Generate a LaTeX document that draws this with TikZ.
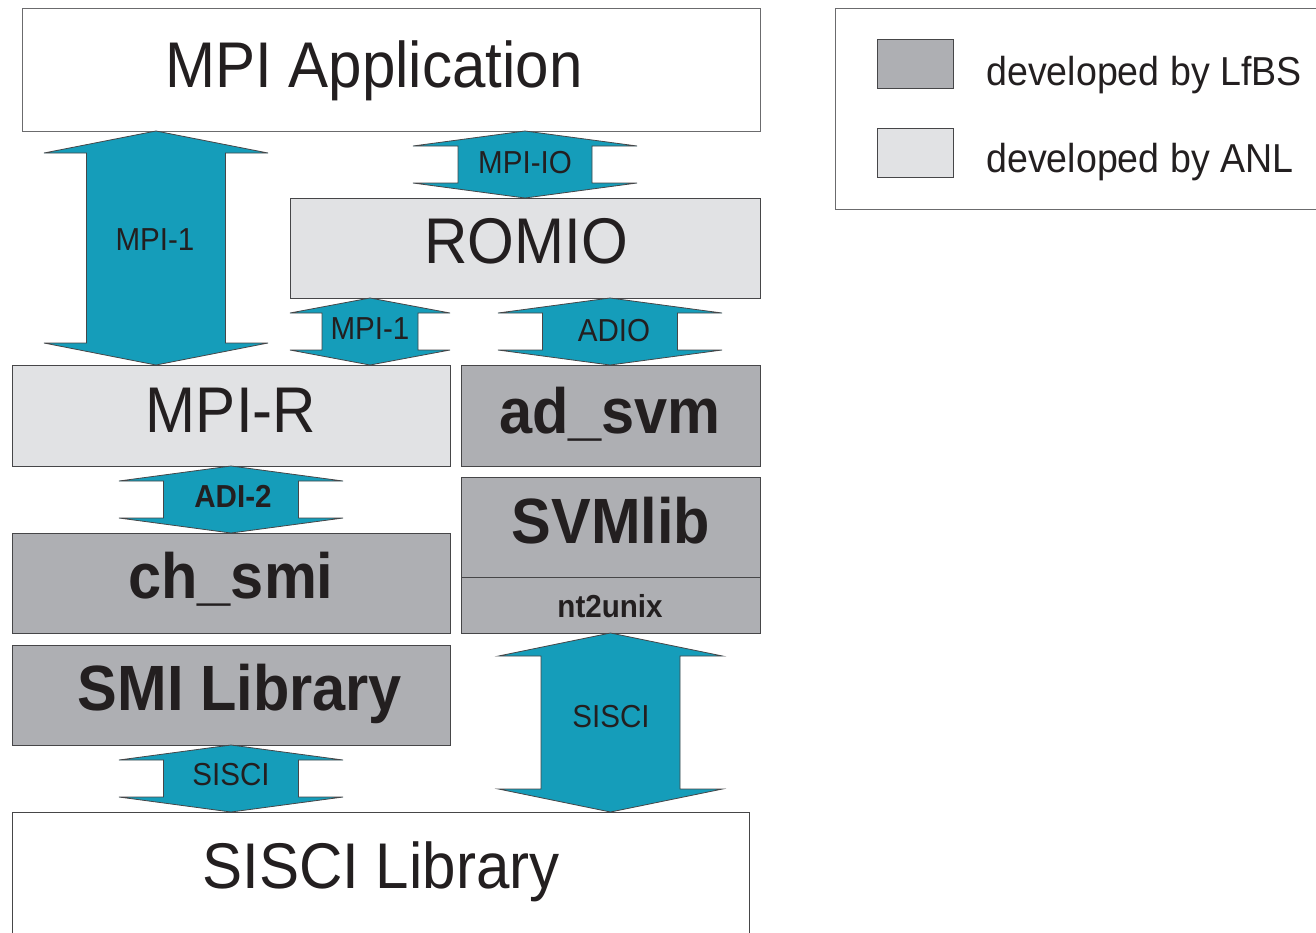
\documentclass[tikz,border=0pt]{standalone}
\usepackage{fontspec}
\setmainfont{Liberation Sans}[FakeStretch=0.93]
\definecolor{teal}{RGB}{21,157,186}
\definecolor{darkbox}{RGB}{174,175,179}
\definecolor{lightbox}{RGB}{225,226,228}
\definecolor{ink}{RGB}{35,31,32}
\definecolor{edge}{RGB}{70,70,72}
\tikzset{
  darkfill/.style={fill=darkbox, draw=edge, line width=0.5pt},
  lightfill/.style={fill=lightbox, draw=edge, line width=0.5pt},
  whitefill/.style={fill=white, draw=edge!80, line width=0.5pt},
  arrowshape/.style={fill=teal, draw=edge, line width=0.4pt},
  bigtxt/.style={anchor=base, inner sep=0pt, text=ink, font=\fontsize{32.3}{35}\selectfont},
  bigbold/.style={anchor=base, inner sep=0pt, text=ink, font=\fontsize{32}{35}\selectfont\bfseries},
  smalltxt/.style={anchor=base, inner sep=0pt, text=ink, font=\fontsize{15.9}{18}\selectfont},
  smallbold/.style={anchor=base, inner sep=0pt, text=ink, font=\fontsize{15.9}{18}\selectfont\bfseries},
  legtxt/.style={anchor=base west, inner sep=0pt, text=ink, font=\fontsize{20.2}{23}\selectfont},
}
% cx, ytop, ybot, headhalf, shafthalf, headlen
\newcommand\dblarrow[6]{%
  \filldraw[arrowshape] (#1,#2) -- (#1+#4,#2+#6) -- (#1+#5,#2+#6) -- (#1+#5,#3-#6)
    -- (#1+#4,#3-#6) -- (#1,#3) -- (#1-#4,#3-#6) -- (#1-#5,#3-#6)
    -- (#1-#5,#2+#6) -- (#1-#4,#2+#6) -- cycle;}
\begin{document}
\begin{tikzpicture}[x=0.5pt,y=-0.5pt]
\useasboundingbox[clip] (0,0) rectangle (1316,932);
\fill[white] (0,0) rectangle (1316,932);

% boxes
\draw[whitefill] (22,8) rectangle (760,131);
\draw[lightfill] (290,198) rectangle (760,298);
\draw[lightfill] (12,365) rectangle (450,466);
\draw[darkfill] (461,365) rectangle (760,466);
\draw[darkfill] (461,477) rectangle (760,633);
\draw[edge, line width=0.5pt] (461,577) -- (760,577);
\draw[darkfill] (12,533) rectangle (450,633);
\draw[darkfill] (12,645) rectangle (450,745);
\draw[whitefill, draw=edge] (12,812) rectangle (749,960);

% legend
\draw[whitefill] (835,8) rectangle (1340,209);
\draw[darkfill] (877,39) rectangle (953,88);
\draw[lightfill] (877,128) rectangle (953,177);
\node[legtxt] (leg1) at (986,85) {developed by LfBS};
\node[legtxt] (leg2) at (986,172) {developed by ANL};

% arrows
\dblarrow{156}{131}{365}{112}{69.5}{22}
\dblarrow{525}{131}{198}{112}{67}{15}
\dblarrow{370}{298}{365}{80}{48}{15}
\dblarrow{610}{298}{365}{112}{67.5}{15}
\dblarrow{231}{466}{533}{112}{67.5}{15}
\dblarrow{231}{745}{812}{112}{67.5}{15}
\dblarrow{610.5}{633}{812}{112}{69.5}{23}

% texts
\node[bigtxt] (app) at (374,87) {MPI Application};
\node[bigtxt] (romio) at (526,263) {ROMIO};
\node[bigtxt] (mpir) at (231,432) {MPI-R};
\node[bigbold] (adsvm) at (610,433) {ad\_svm};
\node[bigbold] (svmlib) at (611,543) {SVMlib};
\node[smallbold] (nt2unix) at (610,617) {nt2unix};
\node[bigbold] (chsmi) at (231,598) {ch\_smi};
\node[bigbold] (smilib) at (240,710) {SMI Library};
\node[bigtxt] (siscilib) at (381,888) {SISCI Library};

\node[smalltxt] (l1) at (155,250) {MPI-1};
\node[smalltxt] (l2) at (525,173) {MPI-IO};
\node[smalltxt] (l3) at (370,339) {MPI-1};
\node[smalltxt] (l4) at (614,341) {ADIO};
\node[smallbold] (l5) at (233,507) {ADI-2};
\node[smalltxt] (l6) at (231,785) {SISCI};
\node[smalltxt] (l7) at (611,727) {SISCI};
\end{tikzpicture}
\end{document}
